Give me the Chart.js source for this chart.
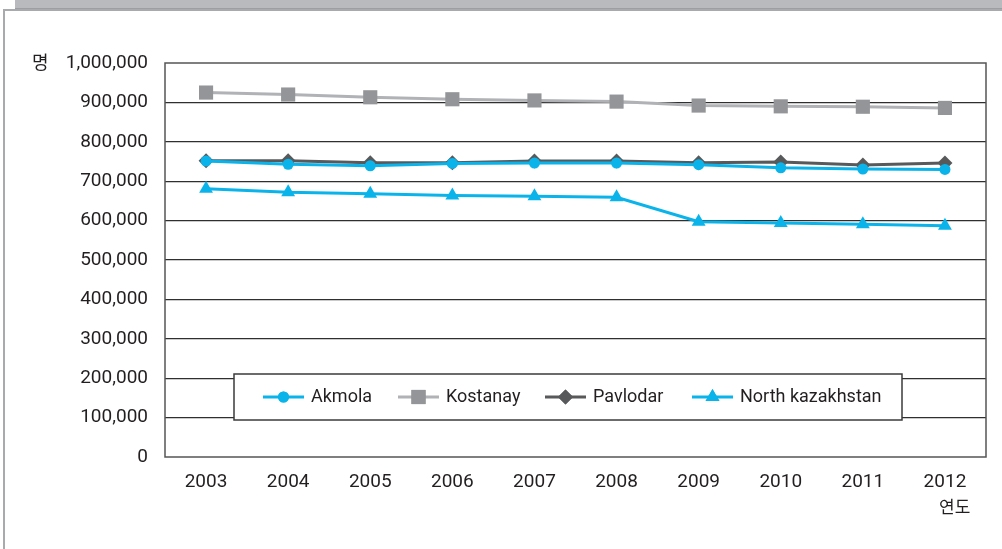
<!DOCTYPE html>
<html>
<head>
<meta charset="utf-8">
<script src="https://cdn.jsdelivr.net/npm/chart.js@4"></script>
<style>
  html, body { margin: 0; padding: 0; background: #fff; }
  #wrap { position: relative; width: 1002px; height: 549px; overflow: hidden; }
  #band { position: absolute; left: 15px; top: 0; width: 987px; height: 8px; background: #b9babd; border-bottom: 1px solid #9d9ea1; }
  #frame { position: absolute; left: 3px; top: 9px; right: -4px; bottom: -4px; border-left: 2px solid #a9aaad; border-top: 2px solid #a9aaad; }
  canvas { position: absolute; left: 0; top: 0; }
</style>
</head>
<body>
<div id="wrap">
  <div id="band"></div>
  <div id="frame"></div>
  <canvas id="popChart" width="1002" height="549"></canvas>
</div>
<script>
// ====================
// 데이터
// ====================
const years = ["2003","2004","2005","2006","2007","2008","2009","2010","2011","2012"];
const akmola = [751000, 743000, 739000, 745000, 746000, 746000, 742000, 734000, 731000, 730000];
const kostanay = [925000, 920000, 913000, 908000, 905000, 902000, 892000, 890000, 889000, 886000];
const pavlodar = [752000, 752000, 747000, 747000, 751000, 751000, 747000, 749000, 741000, 746000];
const northKaz = [681000, 672000, 668000, 664000, 662000, 659000, 597000, 594000, 591000, 587000];
const yTicks = [0, 100000, 200000, 300000, 400000, 500000, 600000, 700000, 800000, 900000, 1000000];

const CYAN = "#0ab4ea";
const FONT = "Roboto, 'Noto Sans', sans-serif";
const KFONT = "'Noto Sans CJK KR', sans-serif";

const series = [
    { label: "Akmola", data: akmola, line: CYAN, mark: CYAN, style: "circle", r: 5.5 },
    { label: "Kostanay", data: kostanay, line: "#b0b2b5", mark: "#939598", style: "rect", r: 10 },
    { label: "Pavlodar", data: pavlodar, line: "#58595b", mark: "#58595b", style: "rectRot", r: 7.5 },
    { label: "North kazakhstan", data: northKaz, line: CYAN, mark: CYAN, style: "triangle", r: 8 }
];

// ====================
// 테두리, 축 제목, 범례
// ====================
const decor = {
    id: "decor",
    beforeDatasetsDraw(chart) {
        const { ctx, chartArea: a } = chart;
        ctx.save();
        ctx.strokeStyle = "#555";
        ctx.lineWidth = 1.5;
        ctx.strokeRect(a.left, a.top, a.right - a.left, a.bottom - a.top);
        ctx.restore();
    },
    afterDraw(chart) {
        const { ctx } = chart;
        ctx.save();
        ctx.fillStyle = "#231f20";
        ctx.font = "18px " + KFONT;
        ctx.textBaseline = "middle";
        ctx.textAlign = "left";
        ctx.fillText("명", 32, 62);
        ctx.font = "17px " + KFONT;
        ctx.fillText("연도", 939, 507);

        // 범례 박스
        const bx = 234, by = 374, bw = 668, bh = 46;
        ctx.fillStyle = "#fff";
        ctx.fillRect(bx, by, bw, bh);
        ctx.strokeStyle = "#3b3b3b";
        ctx.lineWidth = 1.5;
        ctx.strokeRect(bx, by, bw, bh);

        const cy = by + bh / 2;
        const starts = [263, 398, 545, 692];
        ctx.font = "18px " + FONT;
        series.forEach((s, i) => {
            const x0 = starts[i];
            ctx.strokeStyle = s.line;
            ctx.lineWidth = 3;
            ctx.beginPath();
            ctx.moveTo(x0, cy);
            ctx.lineTo(x0 + 41, cy);
            ctx.stroke();
            ctx.fillStyle = s.mark;
            Chart.helpers.drawPoint(ctx, { pointStyle: s.style, radius: s.r, borderWidth: 0 }, x0 + 20.5, cy);
            ctx.fill();
            ctx.fillStyle = "#231f20";
            ctx.fillText(s.label, x0 + 48, cy);
        });
        ctx.restore();
    }
};

const ctx = document.getElementById("popChart").getContext("2d");
new Chart(ctx, {
    type: "line",
    data: {
        labels: years,
        datasets: series.map(s => ({
            label: s.label,
            data: s.data,
            borderColor: s.line,
            backgroundColor: s.mark,
            borderWidth: 3,
            pointStyle: s.style,
            pointRadius: s.r,
            pointBorderWidth: 0,
            pointBackgroundColor: s.mark,
            tension: 0
        }))
    },
    options: {
        responsive: false,
        animation: false,
        layout: { padding: { left: 0, top: 63, right: 16, bottom: 0 } },
        plugins: { legend: { display: false }, tooltip: { enabled: false } },
        scales: {
            x: {
                offset: true,
                afterFit: sc => { sc.height = 92; },
                grid: { display: false, drawTicks: false },
                border: { display: false },
                ticks: { color: "#231f20", font: { family: FONT, size: 19 }, padding: 14, maxRotation: 0 }
            },
            y: {
                min: 0,
                max: 1000000,
                afterFit: sc => { sc.width = 165; },
                afterBuildTicks: sc => { sc.ticks = yTicks.map(v => ({ value: v })); },
                grid: {
                    drawTicks: false,
                    color: c => (c.tick.value === 0 || c.tick.value === 1000000) ? "rgba(0,0,0,0)" : "#2f2f2f",
                    lineWidth: 1.2
                },
                border: { display: false },
                ticks: {
                    color: "#231f20",
                    font: { family: FONT, size: 19 },
                    padding: 17,
                    callback: v => v.toLocaleString("en-US")
                }
            }
        }
    },
    plugins: [decor]
});
</script>
</body>
</html>
